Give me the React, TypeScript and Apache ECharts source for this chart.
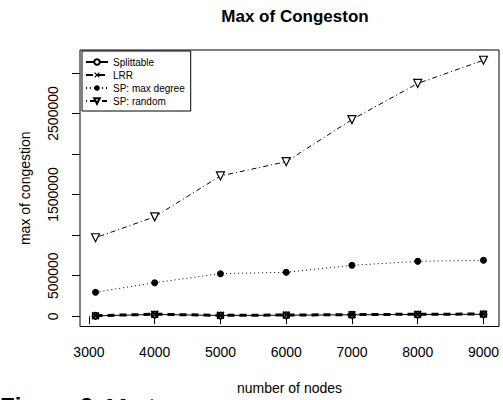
import React, { useEffect, useRef } from "react";
import * as echarts from "echarts";

const nodes = [3100, 4000, 5000, 6000, 7000, 8000, 9000];
const splittable = [5000, 22000, 10000, 13000, 18000, 22000, 24000];
const lrr = [7000, 25000, 12000, 15000, 20000, 25000, 27000];
const spMaxDegree = [296000, 414000, 525000, 542000, 628000, 677000, 690000];
const spRandom = [968000, 1226000, 1730000, 1905000, 2425000, 2870000, 3156000];
const xTicks = [3000, 4000, 5000, 6000, 7000, 8000, 9000];
const yTicks = [0, 500000, 1000000, 1500000, 2000000, 2500000, 3000000];
const yLabels = [0, 500000, 1500000, 2500000];

const FONT = "'Liberation Sans', Arial, Helvetica, sans-serif";
const X_SYMBOL = "path://M0,1.5L1.5,0L5,3.5L8.5,0L10,1.5L6.5,5L10,8.5L8.5,10L5,6.5L1.5,10L0,8.5L3.5,5Z";
const TRI_DOWN = "path://M0,0L10,0L5,9Z";

function pairs(ys: number[]) {
  return nodes.map((x, i) => [x, ys[i]]);
}

export default function App() {
  const ref = useRef<HTMLDivElement>(null);
  useEffect(() => {
    if (!ref.current) return;
    const chart = echarts.init(ref.current, null, { renderer: "svg" });
    const yMax = Math.max(...spRandom);
    const xMin = Math.min(...nodes);
    const xMax = Math.max(...nodes);
    const xPad = (xMax - xMin) * 0.04;
    chart.setOption({
      animation: false,
      backgroundColor: "#fff",
      textStyle: { fontFamily: FONT, color: "#000" },
      title: {
        text: "Max of Congeston",
        left: 290,
        textAlign: "center",
        top: 3,
        textStyle: { fontFamily: FONT, fontSize: 17, fontWeight: "bold", color: "#000" },
      },
      legend: {
        orient: "vertical",
        left: 82,
        top: 51,
        padding: [5, 6, 4, 3],
        borderColor: "#000",
        borderWidth: 1,
        backgroundColor: "#fff",
        itemWidth: 22,
        itemHeight: 7,
        itemGap: 1,
        textStyle: { fontFamily: FONT, fontSize: 10, color: "#000", lineHeight: 12 },
        data: ["Splittable", "LRR", "SP: max degree", "SP: random"],
      },
      grid: {
        left: 80,
        right: 4,
        top: 50,
        bottom: 73.5,
        show: true,
        borderColor: "#000",
        borderWidth: 1,
        containLabel: false,
      },
      xAxis: {
        type: "value",
        min: xMin - xPad,
        max: xMax + xPad,
        name: "number of nodes",
        nameLocation: "middle",
        nameGap: 54,
        nameTextStyle: { fontFamily: FONT, fontSize: 14, color: "#000" },
        axisLine: { show: false },
        splitLine: { show: false },
        axisTick: { show: true, length: 8, lineStyle: { color: "#000" }, customValues: xTicks },
        axisLabel: {
          fontFamily: FONT,
          fontSize: 14,
          color: "#000",
          margin: 18,
          customValues: xTicks,
          formatter: (v: number) => String(v),
        },
      },
      yAxis: {
        type: "value",
        min: -yMax * 0.04,
        max: yMax * 1.04,
        name: "max of congestion",
        nameLocation: "middle",
        nameGap: 48,
        nameTextStyle: { fontFamily: FONT, fontSize: 14, color: "#000" },
        axisLine: { show: false },
        splitLine: { show: false },
        axisTick: { show: true, length: 8, lineStyle: { color: "#000" }, customValues: yTicks },
        axisLabel: {
          fontFamily: FONT,
          fontSize: 14,
          color: "#000",
          rotate: 90,
          align: "center",
          verticalAlign: "bottom",
          margin: 20,
          customValues: yLabels,
          formatter: (v: number) => String(v),
        },
      },
      series: [
        {
          name: "Splittable",
          type: "line",
          data: pairs(splittable),
          symbol: "emptyCircle",
          symbolSize: 6,
          lineStyle: { color: "#000", width: 1, type: "solid" },
          itemStyle: { color: "#000", borderColor: "#000", borderWidth: 1 },
          z: 2,
        },
        {
          name: "LRR",
          type: "line",
          data: pairs(lrr),
          symbol: X_SYMBOL,
          symbolSize: 8,
          showAllSymbol: true,
          lineStyle: { color: "#000", width: 3, type: [7, 5] },
          itemStyle: { color: "#000" },
          z: 3,
        },
        {
          name: "SP: max degree",
          type: "line",
          data: pairs(spMaxDegree),
          symbol: "circle",
          symbolSize: 7,
          lineStyle: { color: "#000", width: 1, type: [1, 3] },
          itemStyle: { color: "#000" },
          z: 2,
        },
        {
          name: "SP: random",
          type: "line",
          data: pairs(spRandom),
          symbol: TRI_DOWN,
          symbolSize: 8,
          lineStyle: { color: "#000", width: 1, type: [1, 3, 5, 3] },
          itemStyle: { color: "#fff", borderColor: "#000", borderWidth: 1.2 },
          z: 2,
        },
      ],
      graphic: [
        {
          type: "text",
          left: 0,
          top: 394,
          style: {
            text: "{b|Figure 3:} {n|Maximum}",
            rich: {
              b: { fontFamily: FONT, fontSize: 24, fontWeight: "bold", fill: "#000" },
              n: { fontFamily: "'Liberation Serif', serif", fontSize: 24, fontStyle: "italic", fill: "#000" },
            },
          },
        },
      ],
    });
    return () => chart.dispose();
  }, []);
  return <div ref={ref} style={{ width: 503, height: 400, position: "fixed", left: 0, top: 0 }} />;
}
